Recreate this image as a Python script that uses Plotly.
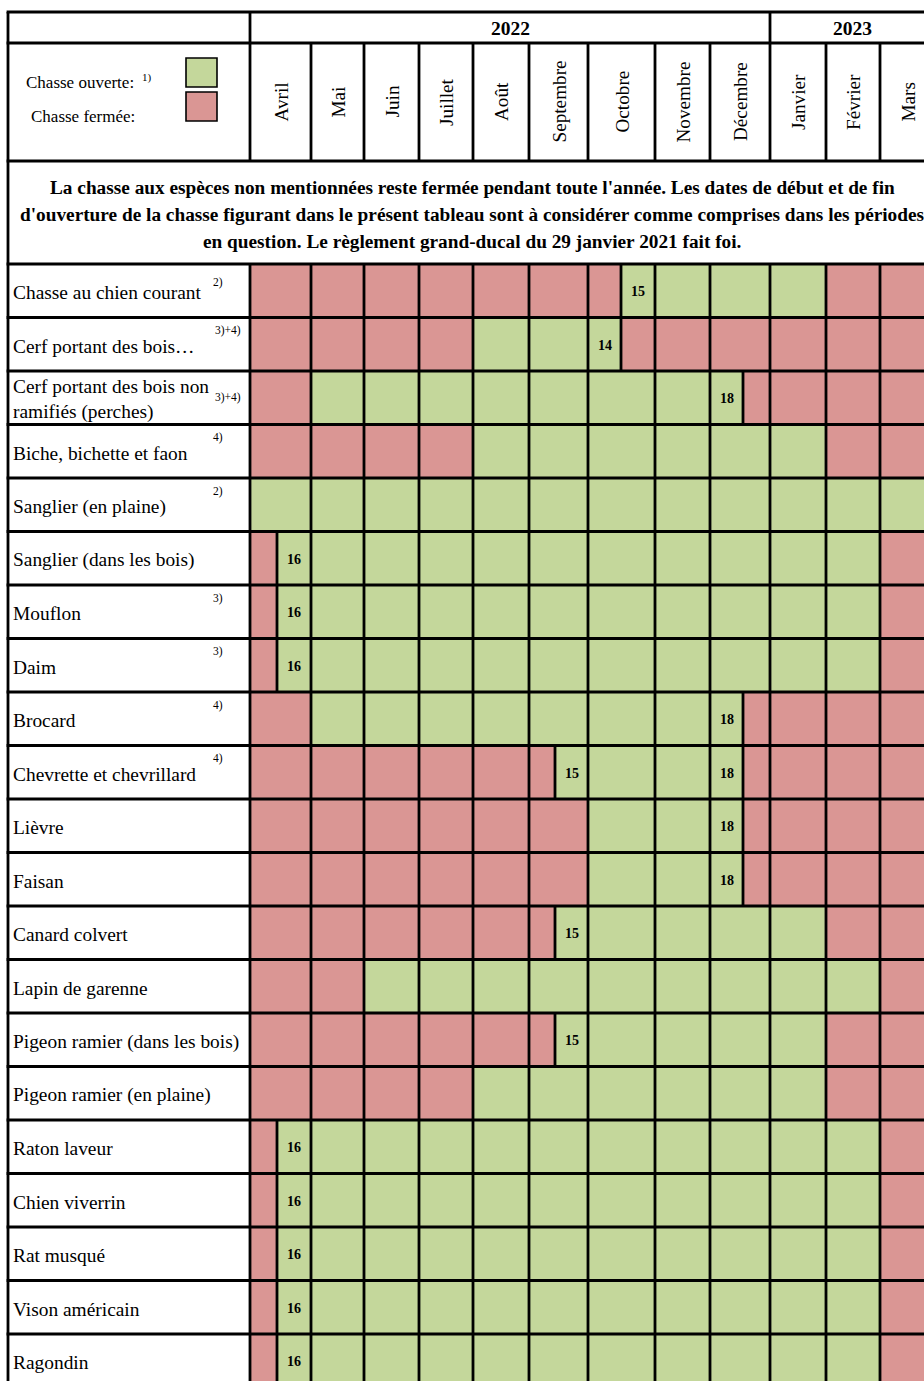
import plotly.graph_objects as go

# ---------------- data ----------------
months = ["Avril", "Mai", "Juin", "Juillet", "Août", "Septembre", "Octobre",
          "Novembre", "Décembre", "Janvier", "Février", "Mars"]
years = ["2022", "2023"]
months_per_year = [9, 3]

legend_labels = ["Chasse ouverte:", "Chasse fermée:"]
legend_note = "1)"

note_lines = [
    "La chasse aux espèces non mentionnées reste fermée pendant toute l'année. Les dates de début et de fin",
    "d'ouverture de la chasse figurant dans le présent tableau sont à considérer comme comprises dans les périodes",
    "en question. Le règlement grand-ducal du 29 janvier 2021 fait foi.",
]

species = [
    "Chasse au chien courant",
    "Cerf portant des bois…",
    "Cerf portant des bois non<br>ramifiés (perches)",
    "Biche, bichette et faon",
    "Sanglier (en plaine)",
    "Sanglier (dans les bois)",
    "Mouflon",
    "Daim",
    "Brocard",
    "Chevrette et chevrillard",
    "Lièvre",
    "Faisan",
    "Canard colvert",
    "Lapin de garenne",
    "Pigeon ramier (dans les bois)",
    "Pigeon ramier (en plaine)",
    "Raton laveur",
    "Chien viverrin",
    "Rat musqué",
    "Vison américain",
    "Ragondin",
]

footnotes = ["2)", "3)+4)", "3)+4)", "4)", "2)", "", "3)", "3)", "4)", "4)",
             "", "", "", "", "", "", "", "", "", "", ""]

# O = chasse ouverte, F = chasse fermée; "F|O:15" = fermée then ouverte from the 15th,
# "O:18|F" = ouverte until the 18th then fermée
seasons = [
    ["F", "F", "F", "F", "F", "F", "F|O:15", "O", "O", "O", "F", "F"],
    ["F", "F", "F", "F", "O", "O", "O:14|F", "F", "F", "F", "F", "F"],
    ["F", "O", "O", "O", "O", "O", "O", "O", "O:18|F", "F", "F", "F"],
    ["F", "F", "F", "F", "O", "O", "O", "O", "O", "O", "F", "F"],
    ["O", "O", "O", "O", "O", "O", "O", "O", "O", "O", "O", "O"],
    ["F|O:16", "O", "O", "O", "O", "O", "O", "O", "O", "O", "O", "F"],
    ["F|O:16", "O", "O", "O", "O", "O", "O", "O", "O", "O", "O", "F"],
    ["F|O:16", "O", "O", "O", "O", "O", "O", "O", "O", "O", "O", "F"],
    ["F", "O", "O", "O", "O", "O", "O", "O", "O:18|F", "F", "F", "F"],
    ["F", "F", "F", "F", "F", "F|O:15", "O", "O", "O:18|F", "F", "F", "F"],
    ["F", "F", "F", "F", "F", "F", "O", "O", "O:18|F", "F", "F", "F"],
    ["F", "F", "F", "F", "F", "F", "O", "O", "O:18|F", "F", "F", "F"],
    ["F", "F", "F", "F", "F", "F|O:15", "O", "O", "O", "O", "F", "F"],
    ["F", "F", "O", "O", "O", "O", "O", "O", "O", "O", "O", "F"],
    ["F", "F", "F", "F", "F", "F|O:15", "O", "O", "O", "O", "F", "F"],
    ["F", "F", "F", "F", "O", "O", "O", "O", "O", "O", "F", "F"],
    ["F|O:16", "O", "O", "O", "O", "O", "O", "O", "O", "O", "O", "F"],
    ["F|O:16", "O", "O", "O", "O", "O", "O", "O", "O", "O", "O", "F"],
    ["F|O:16", "O", "O", "O", "O", "O", "O", "O", "O", "O", "O", "F"],
    ["F|O:16", "O", "O", "O", "O", "O", "O", "O", "O", "O", "O", "F"],
    ["F|O:16", "O", "O", "O", "O", "O", "O", "O", "O", "O", "O", "F"],
]

# ---------------- layout / style ----------------
W, H = 924, 1381
GREEN = "#C4D79B"
RED = "#DA9694"
COLORS = {"O": GREEN, "F": RED}
LW = 2.8
FONT = "Liberation Serif"

X_LEFT = 8
X_LABEL = 250
col_edges = [250, 311, 364, 419, 473, 529, 588, 655, 710, 770, 826, 880, 935]
split_x = {0: 277, 5: 555, 6: 621, 8: 743}
Y_TOP, Y_YEAR, Y_MONTH, Y_NOTE = 12, 43, 161, 264
ROW_H = 53.5
n_rows = len(species)
Y_BOTTOM = Y_NOTE + ROW_H * n_rows
X_RIGHT = col_edges[-1]

shapes = []
annotations = []


def rect(x0, x1, y0, y1, color):
    shapes.append(dict(type="rect", xref="x", yref="y", x0=x0, x1=x1, y0=y0, y1=y1,
                       fillcolor=color, line=dict(width=0), layer="below"))


def line(x0, y0, x1, y1, w=LW):
    shapes.append(dict(type="line", xref="x", yref="y", x0=x0, y0=y0, x1=x1, y1=y1,
                       line=dict(color="black", width=w), layer="above"))


def text(x, y, s, size, bold=False, xanchor="center", yanchor="middle", angle=0, align="center"):
    annotations.append(dict(x=x, y=y, xref="x", yref="y", text=s, showarrow=False,
                            xanchor=xanchor, yanchor=yanchor, textangle=angle, align=align,
                            font=dict(family=FONT, size=size, color="black",
                                      weight="bold" if bold else "normal")))


def parse(part):
    if ":" in part:
        st, day = part.split(":")
        return st, day
    return part, ""


# cells
split_lines = []
for r, row in enumerate(seasons):
    y0 = Y_NOTE + r * ROW_H
    y1 = y0 + ROW_H
    yc = (y0 + y1) / 2
    for m, code in enumerate(row):
        x0, x1 = col_edges[m], col_edges[m + 1]
        if "|" in code:
            a, b = code.split("|")
            sa, da = parse(a)
            sb, db = parse(b)
            xs = split_x[m]
            rect(x0, xs, y0, y1, COLORS[sa])
            rect(xs, x1, y0, y1, COLORS[sb])
            split_lines.append((xs, y0, y1))
            if da:
                text((x0 + xs) / 2, yc + 1, da, 14, bold=True)
            if db:
                text((xs + x1) / 2, yc + 1, db, 14, bold=True)
        else:
            rect(x0, x1, y0, y1, COLORS[code])

# species labels & footnotes
for r, name in enumerate(species):
    y0 = Y_NOTE + r * ROW_H
    yc = y0 + ROW_H / 2
    text(11, yc + 2, name, 19.4, xanchor="left", align="left")
    fn = footnotes[r]
    if fn:
        fy = yc if "<br>" in name else y0 + 13
        if r == 0:
            fy = y0 + 18
        text(228 if len(fn) > 2 else 218, fy, fn, 11.5)

# grid lines
for y in [Y_TOP, Y_YEAR, Y_MONTH, Y_NOTE] + [Y_NOTE + ROW_H * (i + 1) for i in range(n_rows)]:
    line(X_LEFT - LW / 2, y, X_RIGHT + 2, y)
line(X_LEFT, Y_TOP, X_LEFT, Y_BOTTOM + 5)
line(X_RIGHT, Y_TOP, X_RIGHT, Y_BOTTOM + 5)
line(X_LABEL, Y_TOP, X_LABEL, Y_MONTH)
line(X_LABEL, Y_NOTE, X_LABEL, Y_BOTTOM + 5)
year_edge = col_edges[months_per_year[0]]
line(year_edge, Y_TOP, year_edge, Y_YEAR)
for x in col_edges[1:-1]:
    line(x, Y_YEAR, x, Y_MONTH)
    line(x, Y_NOTE, x, Y_BOTTOM + 5)
for xs, y0, y1 in split_lines:
    line(xs, y0, xs, y1)

# years
start = 0
for yr, n in zip(years, months_per_year):
    xc = (col_edges[start] + col_edges[start + n]) / 2
    text(xc, (Y_TOP + Y_YEAR) / 2 + 1, yr, 19.5, bold=True)
    start += n

# months (rotated)
for m, name in enumerate(months):
    xc = (col_edges[m] + col_edges[m + 1]) / 2
    text(xc, (Y_YEAR + Y_MONTH) / 2, name, 19.2, angle=-90)

# legend
text(24, 82, legend_labels[0], 17, xanchor="left")
text(140, 77, legend_note, 11, xanchor="left")
text(29, 116, legend_labels[1], 17, xanchor="left")
shapes.append(dict(type="rect", xref="x", yref="y", x0=186, x1=217, y0=58, y1=87,
                   fillcolor=GREEN, line=dict(color="black", width=1.6)))
shapes.append(dict(type="rect", xref="x", yref="y", x0=186, x1=217, y0=92, y1=121,
                   fillcolor=RED, line=dict(color="black", width=1.6)))

# note
for i, ln in enumerate(note_lines):
    text(472, 187 + 27 * i, ln, 19.3, bold=True)

fig = go.Figure()
fig.update_layout(
    width=W, height=H, autosize=False,
    margin=dict(l=0, r=0, t=0, b=0, pad=0),
    paper_bgcolor="white", plot_bgcolor="white",
    xaxis=dict(range=[0, W], visible=False, fixedrange=True),
    yaxis=dict(range=[H, 0], visible=False, fixedrange=True),
    shapes=shapes, annotations=annotations, showlegend=False,
)
fig.write_html("out.html", config={"displayModeBar": False},
               post_script="document.body.style.margin='0';document.body.style.overflow='hidden';")
